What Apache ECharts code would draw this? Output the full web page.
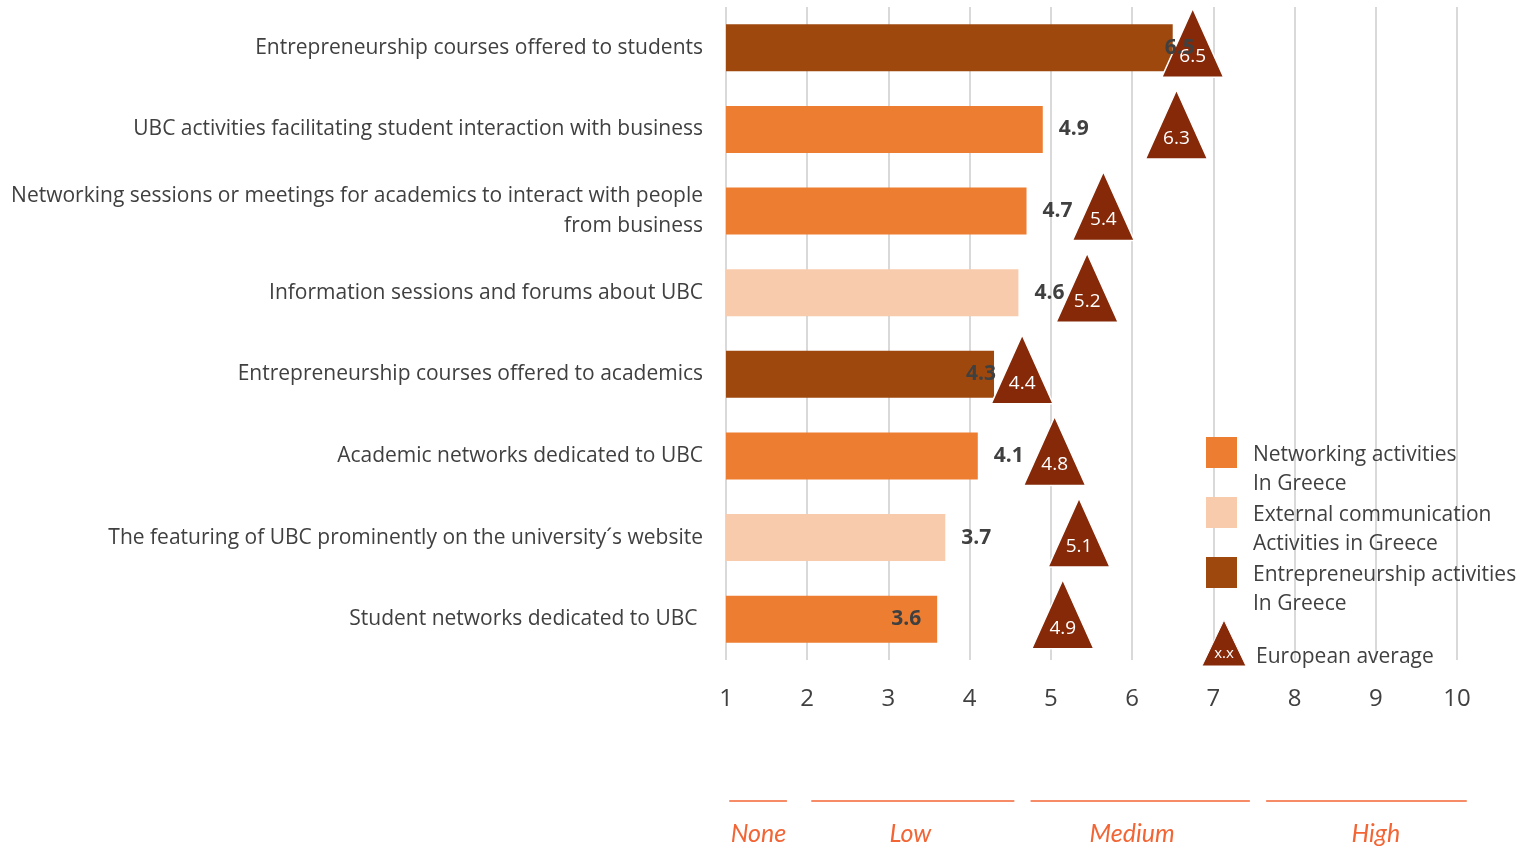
<!DOCTYPE html>
<html>
<head>
<meta charset="utf-8">
<script src="https://cdn.jsdelivr.net/npm/echarts@6/dist/echarts.min.js"></script>
<style>
  html, body { margin: 0; padding: 0; background: #ffffff; }
  #chart { width: 1517px; height: 848px; }
</style>
</head>
<body>
<div id="chart"></div>
<script>
// Activity categories, top to bottom
const categories = [
  'Entrepreneurship courses offered to students',
  'UBC activities facilitating student interaction with business',
  'Networking sessions or meetings for academics to interact with people\nfrom business',
  'Information sessions and forums about UBC',
  'Entrepreneurship courses offered to academics',
  'Academic networks dedicated to UBC',
  'The featuring of UBC prominently on the university\u00b4s website',
  'Student networks dedicated to UBC '
];
// Scores in Greece
const greeceValues = [6.5, 4.9, 4.7, 4.6, 4.3, 4.1, 3.7, 3.6];
// Activity group of each category (index into groupNames)
const groupOfCategory = [2, 0, 0, 1, 2, 0, 1, 0];
const groupNames = [
  'Networking activities\nIn Greece',
  'External communication\nActivities in Greece',
  'Entrepreneurship activities\nIn Greece'
];
// European average per category
const europeanAvg = [6.5, 6.3, 5.4, 5.2, 4.4, 4.8, 5.1, 4.9];
const avgName = 'European average';
// Scale ticks and qualitative bands (line span and label centre on the score scale)
const scaleMin = 1, scaleMax = 10;
const bandNames = ['None', 'Low', 'Medium', 'High'];
const bandFrom  = [1.04, 2.05, 4.75, 7.65];
const bandTo    = [1.75, 4.55, 7.45, 10.12];
const bandMid   = [1.4, 3.27, 6.0, 9.0];

const groupColors = ['#ED7D31', '#F8CBAD', '#9E480E'];
const avgColor = '#852909';
const textColor = '#404040';
const bandColor = '#F26535';
const font = 'Open Sans';

const chart = echarts.init(document.getElementById('chart'));

// Per-bar label placement where the value sits against the bar end
const labelTweaks = {
  0: { position: 'right', distance: -8 },
  4: { position: 'right', distance: -28 },
  7: { position: 'insideRight', distance: 16 }
};

const barData = greeceValues.map((v, i) => ({
  value: v, itemStyle: { color: groupColors[groupOfCategory[i]] }
}));
const barLabelData = greeceValues.map((v, i) => {
  const item = { value: v };
  if (labelTweaks[i]) item.label = labelTweaks[i];
  return item;
});

const avgData = europeanAvg.map((v, i) => [v, categories[i]]);

chart.setOption({
  animation: false,
  backgroundColor: '#ffffff',
  textStyle: { fontFamily: font },
  grid: { left: 726, right: 60, top: 7, height: 653 },
  xAxis: {
    type: 'value',
    min: scaleMin,
    max: scaleMax,
    interval: 1,
    axisLine: { show: false },
    axisTick: { show: false },
    axisLabel: { color: textColor, fontSize: 24, margin: 27, fontFamily: font },
    splitLine: { show: true, lineStyle: { color: '#D9D9D9', width: 2 } }
  },
  yAxis: {
    type: 'category',
    data: categories,
    inverse: true,
    axisLine: { show: false },
    axisTick: { show: false },
    axisLabel: {
      color: textColor, fontSize: 21, margin: 23, lineHeight: 30,
      align: 'right', fontFamily: font, padding: [2, 0, 0, 0]
    }
  },
  series: [
    {
      type: 'bar',
      name: 'Greece',
      data: barData,
      barWidth: 47,
      z: 2
    },
    {
      type: 'scatter',
      name: avgName,
      data: avgData,
      symbol: 'triangle',
      symbolSize: [62, 69],
      symbolOffset: [20, -5],
      z: 3,
      itemStyle: { color: avgColor, borderColor: '#ffffff', borderWidth: 1.5, opacity: 1 },
      label: {
        show: true,
        position: 'inside',
        offset: [0, 14],
        overflow: 'none',
        color: '#ffffff',
        fontSize: 19,
        fontFamily: font,
        formatter: p => p.value[0].toFixed(1)
      }
    },
    {
      // value labels drawn on top of the triangles
      type: 'bar',
      name: 'Greece labels',
      data: barLabelData,
      barWidth: 47,
      barGap: '-100%',
      z: 5,
      itemStyle: { color: 'rgba(0,0,0,0)' },
      label: {
        show: true,
        position: 'right',
        distance: 16,
        color: textColor,
        fontSize: 21,
        fontWeight: 'bold',
        fontFamily: font,
        padding: [3, 0, 0, 0],
        formatter: p => p.value.toFixed(1)
      }
    }
  ]
});

// Legend and the qualitative scale under the axis
function drawExtras() {
  const els = [];
  groupNames.forEach((name, i) => {
    const y = 437 + i * 60;
    els.push({
      type: 'rect',
      shape: { x: 1206, y: y, width: 31, height: 31 },
      style: { fill: groupColors[i] }
    });
    els.push({
      type: 'text',
      x: 1253, y: y + 4,
      style: {
        text: name, fill: textColor, font: '21px "Open Sans"', lineHeight: 29,
        textVerticalAlign: 'top'
      }
    });
  });
  els.push({
    type: 'polygon',
    shape: { points: [[1224, 620], [1246, 666], [1202, 666]] },
    style: { fill: avgColor, stroke: '#ffffff', lineWidth: 1 }
  });
  els.push({
    type: 'text', x: 1224, y: 654,
    style: { text: 'x.x', fill: '#ffffff', font: '15px "Open Sans"', textAlign: 'center', textVerticalAlign: 'middle' }
  });
  els.push({
    type: 'text', x: 1256, y: 657,
    style: { text: avgName, fill: textColor, font: '21px "Open Sans"', textVerticalAlign: 'middle' }
  });
  bandNames.forEach((name, i) => {
    const x1 = chart.convertToPixel({ xAxisIndex: 0 }, bandFrom[i]);
    const x2 = chart.convertToPixel({ xAxisIndex: 0 }, bandTo[i]);
    const xm = chart.convertToPixel({ xAxisIndex: 0 }, bandMid[i]);
    els.push({
      type: 'line',
      shape: { x1: x1, y1: 801, x2: x2, y2: 801 },
      style: { stroke: bandColor, lineWidth: 1.5 }
    });
    els.push({
      type: 'text', x: xm, y: 834,
      style: {
        text: name, fill: bandColor, font: 'italic 25px Lato',
        textAlign: 'center', textVerticalAlign: 'middle'
      }
    });
  });
  chart.setOption({ graphic: els });
}
drawExtras();
</script>
</body>
</html>
